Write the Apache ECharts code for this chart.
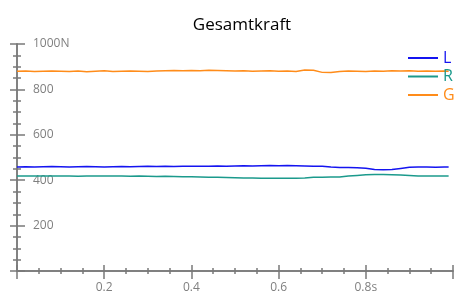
<!DOCTYPE html>
<html><head><meta charset="utf-8">
<script src="https://cdn.jsdelivr.net/npm/echarts@6/dist/echarts.min.js"></script>
<style>html,body{margin:0;padding:0;background:#fff}#c{width:456px;height:294px}</style>
</head><body><div id="c"></div>
<script>
const title = 'Gesamtkraft';
const xValues = [0,0.02,0.04,0.06,0.08,0.10,0.12,0.14,0.16,0.18,0.20,0.22,0.24,0.26,0.28,0.30,0.32,0.34,0.36,0.38,0.40,0.42,0.44,0.46,0.48,0.50,0.52,0.54,0.56,0.58,0.60,0.62,0.64,0.66,0.68,0.70,0.72,0.74,0.76,0.78,0.80,0.82,0.84,0.86,0.88,0.90,0.92,0.94,0.96,0.98,0.99];
const seriesL = [458,459,458,459,460,459,458,459,460,459,458,459,460,459,460,461,460,461,460,461,462,461,462,463,462,463,464,463,464,465,464,465,464,463,462,461,458,456,456,455,453,447,446,447,452,457,458,458,457,458,458];
const seriesR = [418,419,418,419,418,419,418,417,418,418,419,418,418,417,418,417,416,417,416,415,415,414,413,413,412,411,410,410,409,409,409,409,409,410,413,413,414,414,418,421,424,425,425,424,423,421,419,418,419,418,418];
const seriesG = [880,881,879,880,881,880,879,881,878,880,882,879,880,881,880,879,881,882,883,882,883,882,884,883,882,881,882,880,881,882,880,881,879,885,884,875,874,879,881,880,879,881,880,882,881,882,880,881,880,881,880];
const names = ['L','R','G'];
const colors = ['#1414f0','#1b9a8c','#ff8c1a'];
const yTickLabels = {1000:'1000N',800:'800',600:'600',400:'400',200:'200'};
const xTickLabels = {'0.2':'0.2','0.4':'0.4','0.6':'0.6','0.8':'0.8s'};

const font = '"Open Sans", "Noto Sans", sans-serif';
const axisGray = '#7a7a7a';
const mk = (arr) => xValues.map((x,i)=>[x,arr[i]]);
const chart = echarts.init(document.getElementById('c'), null, {renderer:'canvas'});
const xBase = {type:'value', min:0, max:1, interval:0.2, position:'bottom', splitLine:{show:false}};
const yBase = {type:'value', min:0, max:1000, interval:200, position:'left', splitLine:{show:false}};
chart.setOption({
  animation:false,
  title:{text:title, left:237, top:12, textAlign:'center',
    textStyle:{fontFamily:font, fontSize:17, fontWeight:'normal', color:'#000'}},
  legend:{orient:'vertical', left:403, top:45, itemWidth:30, itemHeight:2, itemGap:2.5,
    data:names.map((n,i)=>({name:n, icon:'rect', itemStyle:{color:colors[i]}, textStyle:{color:colors[i]}})),
    textStyle:{fontFamily:font, fontSize:16, lineHeight:16}},
  grid:{left:17, right:-1, top:44, bottom:23, containLabel:false},
  xAxis:[
    Object.assign({}, xBase, {
      axisLine:{lineStyle:{color:axisGray, width:1.5}},
      axisTick:{show:true, inside:false, length:8, lineStyle:{color:axisGray, width:1.5}},
      minorTick:{show:true, splitNumber:4, length:3, lineStyle:{color:axisGray, width:1.5}},
      axisLabel:{margin:11, color:'#7f7f7f', fontFamily:font, fontSize:12,
        formatter:(v)=>{const k=String(Math.round(v*10)/10); return xTickLabels[k]||'';}}
    }),
    Object.assign({}, xBase, {
      axisLine:{show:true, lineStyle:{color:axisGray, width:1.5}},
      axisTick:{show:true, inside:true, length:6, lineStyle:{color:axisGray, width:1.5}},
      minorTick:{show:true, splitNumber:4, length:3, lineStyle:{color:axisGray, width:1.5}},
      axisLabel:{show:false}
    })
  ],
  yAxis:[
    Object.assign({}, yBase, {
      axisLine:{show:true, lineStyle:{color:axisGray, width:1.5}},
      axisTick:{show:true, inside:false, length:7, lineStyle:{color:axisGray, width:1.5}},
      minorTick:{show:true, splitNumber:4, length:4, lineStyle:{color:axisGray, width:1.5}},
      axisLabel:{inside:true, margin:16, color:'#7f7f7f', fontFamily:font, fontSize:12,
        formatter:(v)=>yTickLabels[v]||''}
    }),
    Object.assign({}, yBase, {
      axisLine:{show:true, lineStyle:{color:axisGray, width:1.5}},
      axisTick:{show:true, inside:true, length:8, lineStyle:{color:axisGray, width:1.5}},
      minorTick:{show:true, splitNumber:4, length:4, lineStyle:{color:axisGray, width:1.5}},
      axisLabel:{show:false}
    })
  ],
  series:[seriesL, seriesR, seriesG].map((d,i)=>({
    name:names[i], type:'line', xAxisIndex:0, yAxisIndex:0, data:mk(d),
    showSymbol:false, symbol:'none', smooth:false,
    lineStyle:{color:colors[i], width:1.5}, itemStyle:{color:colors[i]}
  }))
});
</script></body></html>
